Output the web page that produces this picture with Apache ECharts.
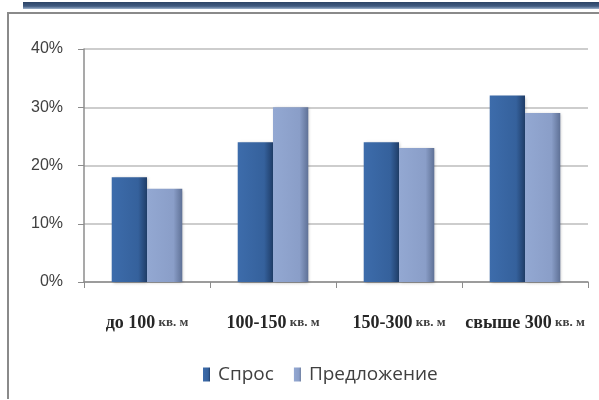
<!DOCTYPE html>
<html>
<head>
<meta charset="utf-8">
<script src="https://cdn.jsdelivr.net/npm/echarts@6/dist/echarts.min.js"></script>
<style>
  html, body { margin: 0; padding: 0; background: #ffffff; }
  #chart { width: 599px; height: 400px; }
</style>
</head>
<body>
<div id="chart"></div>
<script>
// Size ranges of houses
const categories = ['до 100', '100-150', '150-300', 'свыше 300'];
const unitText = 'кв. м';
// Share of demand and supply, %
const demand = [18, 24, 24, 32];
const supply = [16, 30, 23, 29];
const seriesNames = ['Спрос', 'Предложение'];
const yTicks = [0, 10, 20, 30, 40];

const chart = echarts.init(document.getElementById('chart'), null, { renderer: 'canvas' });

function barGradient(c1, c2, c3) {
  return new echarts.graphic.LinearGradient(0, 0, 1, 0, [
    { offset: 0, color: c1 },
    { offset: 0.75, color: c2 },
    { offset: 1, color: c3 }
  ]);
}

chart.setOption({
  backgroundColor: '#ffffff',
  animation: false,
  graphic: [
    {
      type: 'rect',
      shape: { x: 23, y: 2, width: 580, height: 7 },
      style: {
        fill: new echarts.graphic.LinearGradient(0, 0, 0, 1, [
          { offset: 0, color: '#2c4466' },
          { offset: 0.6, color: '#3f5a80' },
          { offset: 1, color: '#9fb3cc' }
        ])
      },
      silent: true
    },
    {
      type: 'polyline',
      shape: { points: [[8, 399], [8, 13], [605, 13]] },
      style: { stroke: '#8a8a8a', lineWidth: 2, fill: null },
      silent: true
    }
  ],
  grid: { left: 84, right: 11, top: 49, bottom: 118 },
  legend: {
    data: seriesNames,
    left: 198,
    top: 360,
    itemWidth: 7,
    itemHeight: 14,
    itemGap: 20,
    icon: 'rect',
    textStyle: { fontFamily: 'Open Sans', fontSize: 19, color: '#404040', padding: [0, 0, 0, 3] }
  },
  xAxis: {
    type: 'category',
    data: categories,
    axisLine: { lineStyle: { color: '#8c8c8c', width: 1.5 } },
    axisTick: { show: true, length: 6, lineStyle: { color: '#8c8c8c' } },
    axisLabel: {
      interval: 0,
      margin: 32,
      formatter: v => '{a|' + v + '}{b| ' + unitText + '}',
      rich: {
        a: { fontFamily: 'Liberation Serif', fontWeight: 'bold', fontSize: 18, color: '#262626' },
        b: { fontFamily: 'Liberation Serif', fontWeight: 'bold', fontSize: 13, color: '#404040' }
      }
    }
  },
  yAxis: {
    type: 'value',
    min: yTicks[0],
    max: yTicks[yTicks.length - 1],
    interval: 10,
    axisLine: { show: true, lineStyle: { color: '#8c8c8c', width: 1.5 } },
    axisTick: { show: true, length: 6, lineStyle: { color: '#8c8c8c' } },
    axisLabel: {
      margin: 21,
      formatter: '{value}%',
      fontFamily: 'Liberation Sans',
      fontSize: 16,
      color: '#404040'
    },
    splitLine: { lineStyle: { color: '#bdbdbd', width: 1.5 } }
  },
  series: [
    {
      name: seriesNames[0],
      type: 'bar',
      data: demand,
      barCategoryGap: '44%',
      barGap: '0%',
      itemStyle: {
        color: barGradient('#3d6cab', '#35619c', '#1f3d68'),
        shadowColor: 'rgba(0,0,0,0.25)',
        shadowBlur: 3,
        shadowOffsetX: 1,
        shadowOffsetY: 1
      }
    },
    {
      name: seriesNames[1],
      type: 'bar',
      data: supply,
      itemStyle: {
        color: barGradient('#93a8d2', '#8a9ec8', '#5f7196'),
        shadowColor: 'rgba(0,0,0,0.25)',
        shadowBlur: 3,
        shadowOffsetX: 1,
        shadowOffsetY: 1
      }
    }
  ]
});
</script>
</body>
</html>
